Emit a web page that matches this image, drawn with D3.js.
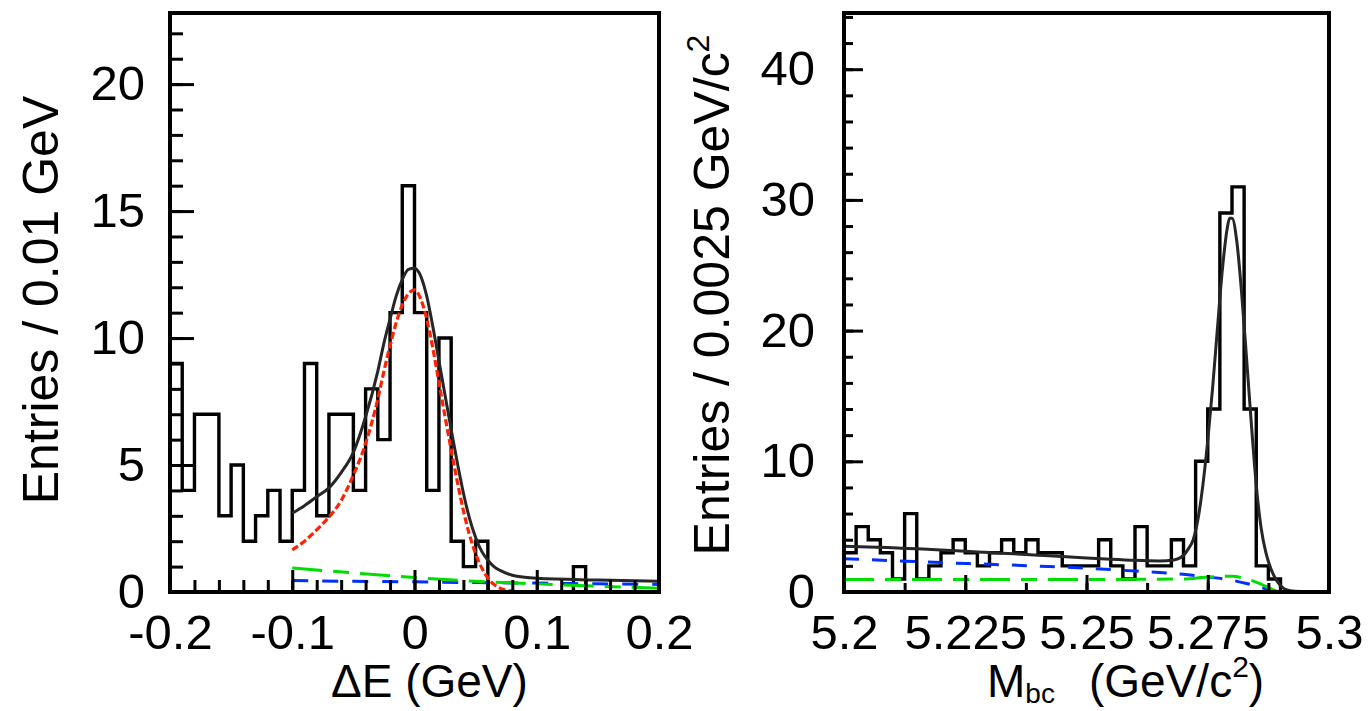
<!DOCTYPE html>
<html>
<head>
<meta charset="utf-8">
<script src="https://cdn.jsdelivr.net/npm/d3@7"></script>
<style>
  body { margin: 0; background: #fff; }
  text { font-family: 'Liberation Sans', Arial, Helvetica, sans-serif; fill: #000; }
</style>
</head>
<body>
<svg id="chart" width="1369" height="711"></svg>
<script>
// ---------- ΔE panel ----------
const deRange = [-0.2, 0.2];
const deBinWidth = 0.01;
const deCounts = [9, 4, 7, 7, 3, 5, 2, 3, 4, 2,
                  4, 9, 3, 7, 7, 4, 8, 6, 11, 16,
                  11, 4, 10, 2, 1, 2, 0, 0, 0, 0,
                  0, 0, 0, 1, 0, 0, 0, 0, 0, 0];
const deFitX = [-0.1, -0.09, -0.08, -0.07, -0.06, -0.05, -0.04, -0.03, -0.025, -0.02, -0.015, -0.01, -0.005,
                0, 0.005, 0.01, 0.015, 0.02, 0.025, 0.03, 0.035, 0.04, 0.045, 0.05, 0.055, 0.06, 0.065,
                0.07, 0.08, 0.09, 0.1, 0.15, 0.2];
const deTotal = [3.1, 3.4, 3.75, 4.1, 4.7, 5.5, 6.9, 8.7, 9.8, 10.75, 11.65, 12.3, 12.7,
                 12.75, 12.45, 11.65, 10.45, 9.1, 7.75, 6.4, 5.1, 3.9, 2.9, 2.15, 1.6, 1.25, 1.0,
                 0.85, 0.66, 0.58, 0.54, 0.47, 0.42];
const deSignal = [1.66, 2.0, 2.45, 2.95, 3.6, 4.6, 5.85, 7.6, 8.7, 9.7, 10.6, 11.3, 11.75,
                  11.9, 11.55, 10.75, 9.6, 8.25, 6.9, 5.6, 4.35, 3.2, 2.25, 1.5, 0.95, 0.55, 0.3,
                  0.15, 0.04, 0.01, 0.0, 0.0, 0.0];
const deBkgX = [-0.1, -0.05, 0, 0.05, 0.1, 0.15, 0.2];
const deBkgGreen = [0.95, 0.75, 0.57, 0.42, 0.32, 0.23, 0.15];
const deBkgBlue = [0.45, 0.42, 0.4, 0.37, 0.35, 0.32, 0.3];
const deXMajor = [-0.2, -0.1, 0, 0.1, 0.2];
const deXLabels = ["-0.2", "-0.1", "0", "0.1", "0.2"];
const deXMinor = d3.range(-0.2, 0.2001, 0.02);
const deYMajor = [0, 5, 10, 15, 20];
const deYLabels = ["0", "5", "10", "15", "20"];
const deYMinor = d3.range(0, 23, 1);

// ---------- Mbc panel ----------
const mbcRange = [5.2, 5.3];
const mbcBinWidth = 0.0025;
const mbcCounts = [3, 5, 4, 3, 1, 6, 1, 2, 3, 4,
                   3, 2, 3, 4, 3, 4, 3, 3, 2, 2,
                   2, 4, 2, 1, 5, 2, 2, 4, 2, 10,
                   14, 29, 31, 14, 2, 1, 0, 0, 0, 0];
const mbcFitX = [5.2, 5.205, 5.21, 5.215, 5.22, 5.225, 5.23, 5.235, 5.24, 5.245, 5.25, 5.255, 5.26,
                 5.265, 5.268, 5.27, 5.271, 5.272, 5.273, 5.274, 5.275, 5.276, 5.277, 5.278, 5.279,
                 5.2795, 5.28, 5.281, 5.282, 5.283, 5.284, 5.285, 5.286, 5.287, 5.288, 5.289, 5.29,
                 5.291, 5.293, 5.3];
const mbcTotal = [3.5, 3.45, 3.38, 3.3, 3.22, 3.12, 3.02, 2.92, 2.82, 2.72, 2.6, 2.5, 2.42,
                  2.38, 2.45, 2.8, 3.3, 4.0, 5.6, 8.2, 11.6, 15.6, 20.2, 24.6, 27.8,
                  28.6, 28.6, 26.8, 22.8, 17.9, 12.8, 8.2, 4.9, 3.0, 1.8, 1.0, 0.5,
                  0.2, 0.05, 0.0];
const mbcBkgX = [5.2, 5.21, 5.22, 5.23, 5.24, 5.25, 5.26, 5.27, 5.275, 5.28, 5.283, 5.286, 5.288, 5.29, 5.3];
const mbcBkgBlue = [2.55, 2.4, 2.25, 2.12, 1.98, 1.82, 1.6, 1.35, 1.15, 0.9, 0.65, 0.35, 0.12, 0.0, 0.0];
const mbcBkgGreen = [0.95, 0.95, 0.95, 0.95, 0.95, 0.95, 0.97, 1.0, 1.15, 1.2, 1.0, 0.6, 0.25, 0.0, 0.0];
const mbcXMajor = [5.2, 5.225, 5.25, 5.275, 5.3];
const mbcXLabels = ["5.2", "5.225", "5.25", "5.275", "5.3"];
const mbcXMinor = d3.range(0, 9).map(i => 5.2 + i * 0.0125);
const mbcYMajor = [0, 10, 20, 30, 40];
const mbcYLabels = ["0", "10", "20", "30", "40"];
const mbcYMinor = d3.range(0, 45, 2);

const RED = "#ff2200", GREEN = "#00dd00", BLUE = "#0030ff", BLACK = "#262626";

const svg = d3.select("#chart");

function drawPanel(cfg) {
  const x = d3.scaleLinear().domain(cfg.xDomain).range([cfg.left, cfg.right]);
  const y = d3.scaleLinear().domain(cfg.yDomain).range([cfg.bottom, cfg.top]);
  const g = svg.append("g");

  const clipId = cfg.id + "-clip";
  svg.append("clipPath").attr("id", clipId).append("rect")
    .attr("x", cfg.left).attr("y", cfg.top)
    .attr("width", cfg.right - cfg.left).attr("height", cfg.bottom - cfg.top);
  const plot = g.append("g").attr("clip-path", `url(#${clipId})`);

  // histogram outline
  const n = cfg.counts.length;
  const edges = d3.range(n + 1).map(i => cfg.xDomain[0] + i * cfg.binWidth);
  const pts = cfg.counts.map((c, i) => [edges[i], c]);
  pts.push([edges[n], cfg.counts[n - 1]]);
  plot.append("path")
    .attr("d", d3.line().x(d => x(d[0])).y(d => y(d[1])).curve(d3.curveStepAfter)(pts))
    .attr("fill", "none").attr("stroke", "#000").attr("stroke-width", 3.4)
    .attr("stroke-linejoin", "miter");

  // fit curves
  const line = d3.line().x(d => x(d[0])).y(d => y(d[1])).curve(d3.curveMonotoneX);
  cfg.curves.forEach(c => {
    plot.append("path")
      .attr("d", line(d3.zip(c.x, c.y)))
      .attr("fill", "none").attr("stroke", c.color)
      .attr("stroke-width", c.width)
      .attr("stroke-dasharray", c.dash || null);
  });

  // y ticks (inside, from the left edge)
  const yMinorAxis = g.append("g").attr("transform", `translate(${cfg.left},0)`)
    .call(d3.axisRight(y).tickValues(cfg.yMinor).tickSize(cfg.yMinorLen).tickFormat(""));
  const yMajorAxis = g.append("g").attr("transform", `translate(${cfg.left},0)`)
    .call(d3.axisRight(y).tickValues(cfg.yMajor).tickSize(cfg.yMajorLen).tickFormat(""));
  const yLab = g.append("g").attr("transform", `translate(${cfg.left},0)`)
    .call(d3.axisLeft(y).tickValues(cfg.yMajor).tickSize(0).tickPadding(cfg.yPad)
      .tickFormat((d, i) => cfg.yLabels[i]));

  // x ticks (inside, from the bottom edge)
  const xMinorAxis = g.append("g").attr("transform", `translate(0,${cfg.bottom})`)
    .call(d3.axisTop(x).tickValues(cfg.xMinor).tickSize(cfg.xMinorLen).tickFormat(""));
  const xMajorAxis = g.append("g").attr("transform", `translate(0,${cfg.bottom})`)
    .call(d3.axisTop(x).tickValues(cfg.xMajor).tickSize(cfg.xMajorLen).tickFormat(""));
  const xLab = g.append("g").attr("transform", `translate(0,${cfg.bottom})`)
    .call(d3.axisBottom(x).tickValues(cfg.xMajor).tickSize(0).tickPadding(cfg.xPad)
      .tickFormat((d, i) => cfg.xLabels[i]));

  [yMinorAxis, yMajorAxis, yLab, xMinorAxis, xMajorAxis, xLab].forEach(a => {
    a.select(".domain").remove();
    a.selectAll(".tick line").attr("stroke", "#000").attr("stroke-width", 3);
    a.selectAll("text").attr("font-size", cfg.labelSize)
      .style("font-family", "'Liberation Sans', Arial, Helvetica, sans-serif").attr("fill", "#000");
  });

  // frame
  g.append("rect")
    .attr("x", cfg.left).attr("y", cfg.top)
    .attr("width", cfg.right - cfg.left).attr("height", cfg.bottom - cfg.top)
    .attr("fill", "none").attr("stroke", "#000").attr("stroke-width", 4);

  return { x, y, g };
}

drawPanel({
  id: "de", left: 170, right: 659, top: 13, bottom: 592,
  xDomain: deRange, yDomain: [0, 22.8], binWidth: deBinWidth, counts: deCounts,
  curves: [
    { x: deFitX, y: deTotal, color: BLACK, width: 3 },
    { x: deFitX, y: deSignal, color: RED, width: 3.2, dash: "7,3" },
    { x: deBkgX, y: deBkgBlue, color: BLUE, width: 3, dash: "16,14" },
    { x: deBkgX, y: deBkgGreen, color: GREEN, width: 3, dash: "30,11,16,11" }
  ],
  yMajor: deYMajor, yMinor: deYMinor, yLabels: deYLabels, yMajorLen: 24, yMinorLen: 13, yPad: 25,
  xMajor: deXMajor, xMinor: deXMinor, xLabels: deXLabels, xMajorLen: 22, xMinorLen: 12, xPad: 22,
  labelSize: 49
});

drawPanel({
  id: "mbc", left: 844, right: 1329, top: 13, bottom: 592,
  xDomain: mbcRange, yDomain: [0, 44.3], binWidth: mbcBinWidth, counts: mbcCounts,
  curves: [
    { x: mbcFitX, y: mbcTotal, color: BLACK, width: 3 },
    { x: mbcBkgX, y: mbcBkgBlue, color: BLUE, width: 3, dash: "15,13" },
    { x: mbcBkgX, y: mbcBkgGreen, color: GREEN, width: 3, dash: "30,11,16,11" }
  ],
  yMajor: mbcYMajor, yMinor: mbcYMinor, yLabels: mbcYLabels, yMajorLen: 19, yMinorLen: 9, yPad: 29,
  xMajor: mbcXMajor, xMinor: mbcXMinor, xLabels: mbcXLabels, xMajorLen: 17, xMinorLen: 9, xPad: 22,
  labelSize: 49
});

// axis titles
svg.append("text").attr("x", 331).attr("y", 697).attr("font-size", 46).text("ΔE (GeV)");

const mt = svg.append("text").attr("x", 987).attr("y", 697).attr("font-size", 46);
mt.append("tspan").text("M");
mt.append("tspan").attr("font-size", 28).attr("dy", 6).text("bc");
mt.append("tspan").attr("x", 1089).attr("dy", -6).text("(GeV/c");
mt.append("tspan").attr("font-size", 30).attr("dy", -20).text("2");
mt.append("tspan").attr("dy", 20).text(")");

svg.append("text").attr("transform", "translate(58,300) rotate(-90)")
  .attr("text-anchor", "middle").attr("font-size", 50).text("Entries / 0.01 GeV");

const yt2 = svg.append("text").attr("transform", "translate(729,295) rotate(-90)")
  .attr("text-anchor", "middle").attr("font-size", 50);
yt2.append("tspan").text("Entries / 0.0025 GeV/c");
yt2.append("tspan").attr("font-size", 32).attr("dy", -20).text("2");
</script>
</body>
</html>
